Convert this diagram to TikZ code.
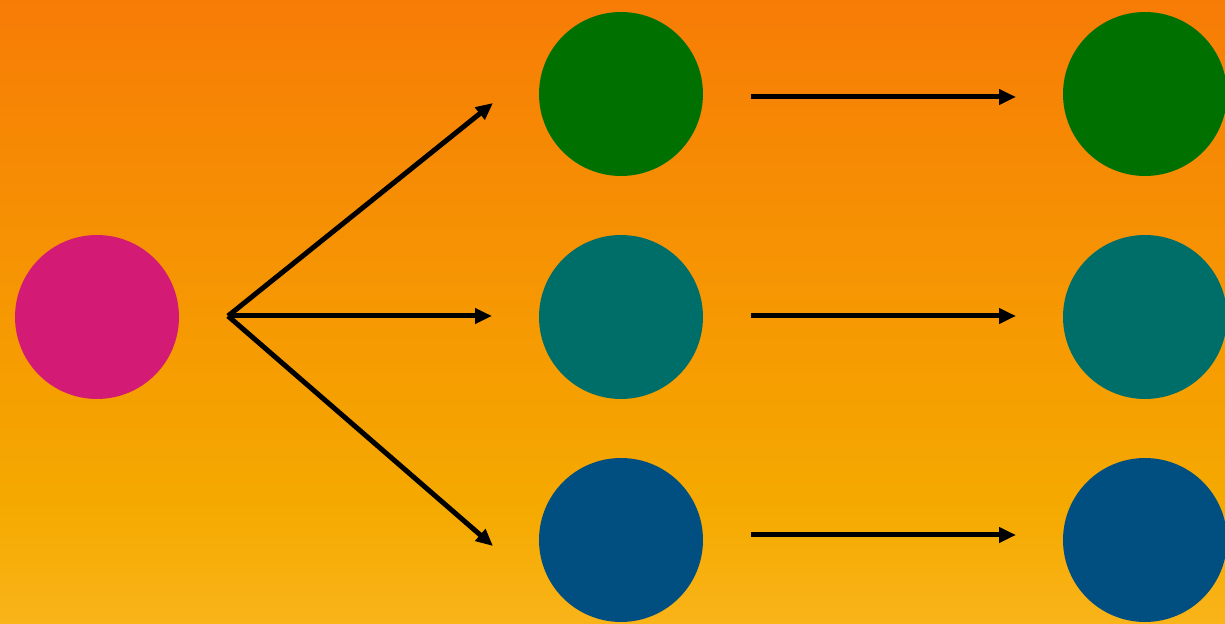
\documentclass[tikz,border=0pt]{standalone}
\usetikzlibrary{arrows.meta}
\definecolor{bgtop}{HTML}{F77C06}
\definecolor{bgmid}{HTML}{F5AA00}
\definecolor{bgbot}{HTML}{F9B41A}
\definecolor{cpink}{HTML}{D31A75}
\definecolor{cgreen}{HTML}{007000}
\definecolor{cteal}{HTML}{006E68}
\definecolor{cblue}{HTML}{004F80}
\tikzset{
  dot/.style={circle, inner sep=0pt, minimum size=3.28cm, draw=none},
  link/.style={line width=0.1cm, -{Triangle[length=0.34cm,width=0.3cm]}},
}
\begin{document}
\begin{tikzpicture}[x=0.02cm, y=-0.02cm]
  % background
  \useasboundingbox (0,0) rectangle (1225,624);
  \shade[top color=bgtop, bottom color=bgmid] (0,0) rectangle (1225,511);
  \shade[top color=bgmid, bottom color=bgbot] (0,510) rectangle (1225,624);
  \begin{scope}
    \clip (0,0) rectangle (1225,624);
    % source
    \node[dot, fill=cpink] (src) at (97,317) {};
    % middle column
    \node[dot, fill=cgreen] (m1) at (621,94) {};
    \node[dot, fill=cteal]  (m2) at (621,317) {};
    \node[dot, fill=cblue]  (m3) at (621,540) {};
    % right column
    \node[dot, fill=cgreen] (r1) at (1145,94) {};
    \node[dot, fill=cteal]  (r2) at (1145,317) {};
    \node[dot, fill=cblue]  (r3) at (1145,540) {};
  \end{scope}
  % arrow anchor points
  \coordinate (fork) at (228,316);
  \coordinate (f1) at (493,103);
  \coordinate (f2) at (492,316);
  \coordinate (f3) at (493,546);
  \coordinate (h1a) at (751,97);  \coordinate (h1b) at (1016,97);
  \coordinate (h2a) at (751,316); \coordinate (h2b) at (1016,316);
  \coordinate (h3a) at (751,535); \coordinate (h3b) at (1016,535);
  % fan-out arrows
  \draw[link] (fork) -- (f1);
  \draw[link] (fork) -- (f2);
  \draw[link] (fork) -- (f3);
  % straight arrows
  \draw[link] (h1a) -- (h1b);
  \draw[link] (h2a) -- (h2b);
  \draw[link] (h3a) -- (h3b);
\end{tikzpicture}
\end{document}
